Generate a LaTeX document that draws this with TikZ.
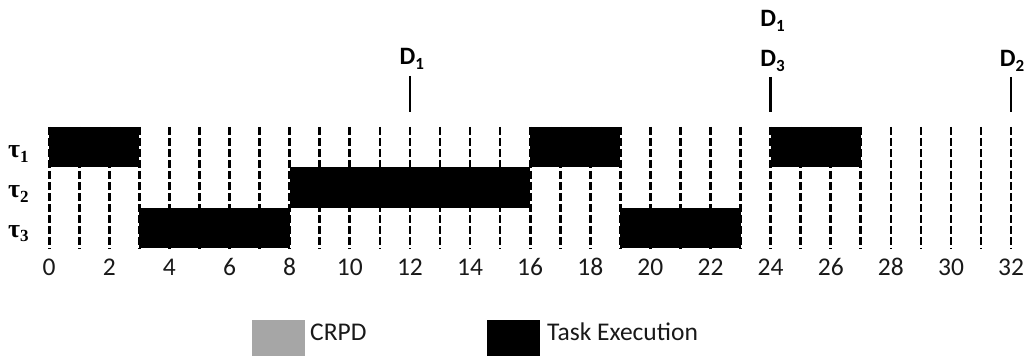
\documentclass[tikz,border=0pt]{standalone}
\usepackage{fontspec}
\setmainfont{Carlito}
\newfontfamily\tserif{Liberation Serif}
\definecolor{crpd}{HTML}{A6A6A6}
\newcommand{\dsub}[1]{\raisebox{-5pt}{\fontsize{17}{17}\selectfont #1}}
\newcommand{\tsub}[1]{\raisebox{-4.5pt}{\fontsize{17}{17}\selectfont #1}}
\begin{document}
\begin{tikzpicture}[x=1pt,y=-1pt,
  gridline/.style={line width=2.7pt, dash pattern=on 8.4pt off 2.6pt, black},
  dline/.style={line width=2.7pt, black},
  ticklab/.style={font=\fontsize{25.5}{28}\selectfont, anchor=base, inner sep=0pt, text=black!90},
  dlab/.style={font=\bfseries\fontsize{25}{28}\selectfont, anchor=base, inner sep=0pt},
  tlab/.style={font=\tserif\bfseries\fontsize{26}{28}\selectfont, anchor=base west, inner sep=0pt},
  legbox/.style={minimum width=53pt, minimum height=36pt, inner sep=0pt, draw=none, anchor=north west},
  legtext/.style={font=\fontsize{25.5}{28}\selectfont, anchor=base west, inner sep=0pt, text=black!90}]
\useasboundingbox (0,0) rectangle (1032,358);
\def\ox{49.2}
\def\u{30.06}
% grid
\foreach \t in {0,...,32} \draw[gridline] ({\ox+\u*\t},127) -- ({\ox+\u*\t},248.3);
% tau1
\fill ({\ox+\u*0},127) rectangle ({\ox+\u*3},167.3);
\fill ({\ox+\u*16},127) rectangle ({\ox+\u*19},167.3);
\fill ({\ox+\u*24},127) rectangle ({\ox+\u*27},167.3);
% tau2
\fill ({\ox+\u*8},167.3) rectangle ({\ox+\u*16},208);
% tau3
\fill ({\ox+\u*3},208) rectangle ({\ox+\u*8},248.3);
\fill ({\ox+\u*19},208) rectangle ({\ox+\u*23},248.3);
% task labels
\node[tlab] (tau1) at (8,158) {τ\tsub{1}};
\node[tlab] (tau2) at (8,197.5) {τ\tsub{2}};
\node[tlab] (tau3) at (8,237) {τ\tsub{3}};
% tick labels
\foreach \t in {0,2,...,32} \node[ticklab] (n\t) at ({\ox+\u*\t},275) {\t};
% deadlines
\coordinate (d12t) at ({\ox+\u*12},76);
\coordinate (d12b) at ({\ox+\u*12},112);
\coordinate (d24t) at ({\ox+\u*24},77);
\coordinate (d24b) at ({\ox+\u*24},112);
\coordinate (d32t) at ({\ox+\u*32},77);
\coordinate (d32b) at ({\ox+\u*32},112);
\draw[dline] (d12t) -- (d12b);
\draw[dline] (d24t) -- (d24b);
\draw[dline] (d32t) -- (d32b);
\node[dlab] (D1a) at ({\ox+\u*12+2},65) {D\dsub{1}};
\node[dlab] (D3) at ({\ox+\u*24+2},67) {D\dsub{3}};
\node[dlab] (D1b) at ({\ox+\u*24+2},27) {D\dsub{1}};
\node[dlab] (D2) at ({\ox+\u*32+1},67) {D\dsub{2}};
% legend
\node[legbox, fill=crpd] (lgcrpd) at (252,320) {};
\node[legtext] (lgcrpdt) at (310,340) {CRPD};
\node[legbox, fill=black] (lgexec) at (487,320) {};
\node[legtext] (lgexect) at (547,340) {Task Execution};
\end{tikzpicture}
\end{document}
